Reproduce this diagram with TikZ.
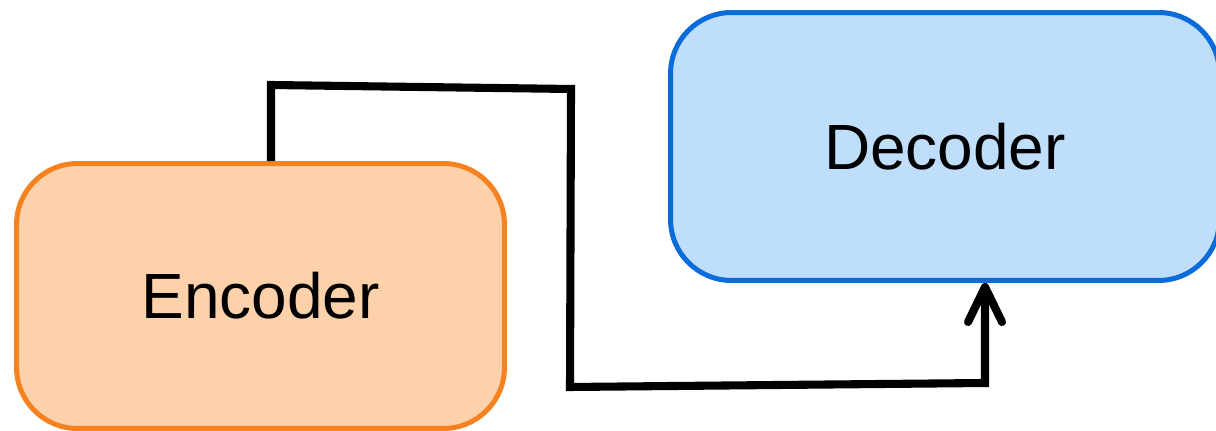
\documentclass[tikz,border=0pt]{standalone}
\usepackage{fontspec}
\setmainfont{Liberation Sans}
\usetikzlibrary{arrows.meta}
\definecolor{encfill}{HTML}{FDD1AA}
\definecolor{encline}{HTML}{F5821F}
\definecolor{decfill}{HTML}{BEDEFC}
\definecolor{decline}{HTML}{0A6CDA}
\begin{document}
\begin{tikzpicture}[x=0.02cm, y=-0.02cm,
  block/.style={draw, line width=2.85pt, rounded corners=1.22cm,
    font=\fontsize{36.4}{40}\selectfont, inner sep=0pt},
  conn/.style={line width=4.6pt, line join=miter,
    -{Straight Barb[round, length=0.70cm, width=0.68cm]}}]
\useasboundingbox (0,0) rectangle (1216,431);
% encoder and decoder blocks
\node[block, fill=encfill, draw=encline, minimum width=9.76cm, minimum height=5.3cm]
  (enc) at (260.5,296) {Encoder};
\node[block, fill=decfill, draw=decline, minimum width=10.98cm, minimum height=5.36cm]
  (dec) at (945,146.5) {Decoder};
% bends of the connector
\coordinate (b1) at (271,85);
\coordinate (b2) at (571,89);
\coordinate (b3) at (570,387);
\coordinate (b4) at (985,383);
\draw[conn] (b1 |- enc.north) -- (b1) -- (b2) -- (b3) -- (b4) -- (b4 |- dec.south);
\end{tikzpicture}
\end{document}
